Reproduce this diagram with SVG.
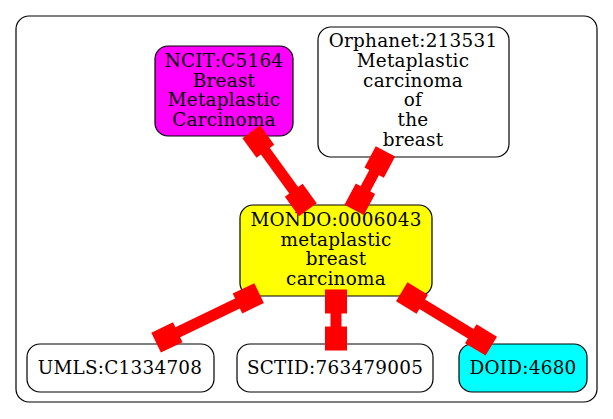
<svg xmlns="http://www.w3.org/2000/svg" width="613" height="419" viewBox="0 0 613 419">
<style>
.frame{fill:#fff;stroke:#000;stroke-width:1.2}
.node{stroke:#000;stroke-width:1.2}
text{font-family:"DejaVu Serif","Liberation Serif",serif;font-size:18.4px;letter-spacing:0.25px;text-anchor:middle;fill:#000}
.edge line{stroke:#f00;stroke-width:11}
.edge rect{fill:#f00}
</style>
<rect width="613" height="419" fill="#fff"/>
<rect class="frame" x="16" y="16" width="581" height="386" rx="13"/>
<g id="ncit">
<rect class="node" x="155" y="46" width="138" height="90" rx="13" fill="#ff00ff"/>
<text x="224" y="67">NCIT:C5164</text>
<text x="224" y="86.5">Breast</text>
<text x="224" y="106">Metaplastic</text>
<text x="224" y="125.5">Carcinoma</text>
</g>
<g id="orphanet">
<rect class="node" x="318" y="27" width="191" height="130" rx="13" fill="#fff"/>
<text x="413" y="47">Orphanet:213531</text>
<text x="413" y="66.8">Metaplastic</text>
<text x="413" y="86.6">carcinoma</text>
<text x="413" y="106.4">of</text>
<text x="413" y="126.2">the</text>
<text x="413" y="146">breast</text>
</g>
<g id="mondo">
<rect class="node" x="240" y="205" width="192" height="91" rx="13" fill="#ffff00"/>
<text x="336" y="226">MONDO:0006043</text>
<text x="336" y="245.5">metaplastic</text>
<text x="336" y="265">breast</text>
<text x="336" y="284.5">carcinoma</text>
</g>
<g id="umls">
<rect class="node" x="27" y="344" width="187" height="48" rx="13" fill="#fff"/>
<text x="120" y="373.5">UMLS:C1334708</text>
</g>
<g id="sctid">
<rect class="node" x="237" y="344" width="196" height="48" rx="13" fill="#fff"/>
<text x="335" y="373.5">SCTID:763479005</text>
</g>
<g id="doid">
<rect class="node" x="459" y="344" width="128" height="48" rx="13" fill="#00ffff"/>
<text x="523" y="373.5">DOID:4680</text>
</g>
<g id="edges">
<g class="edge" transform="translate(258.3 141.5) rotate(54)">
<line x1="0" y1="0" x2="72.3" y2="0"/>
<rect x="-12" y="-11" width="24" height="22"/>
<rect x="60.3" y="-11" width="24" height="22"/>
</g>
<g class="edge" transform="translate(379.8 162) rotate(118.2)">
<line x1="0" y1="0" x2="42.3" y2="0"/>
<rect x="-12" y="-11" width="24" height="22"/>
<rect x="30.3" y="-11" width="24" height="22"/>
</g>
<g class="edge" transform="translate(248.3 298.3) rotate(154.3)">
<line x1="0" y1="0" x2="90.3" y2="0"/>
<rect x="-12" y="-11" width="24" height="22"/>
<rect x="78.3" y="-11" width="24" height="22"/>
</g>
<g class="edge" transform="translate(336 301.5) rotate(90)">
<line x1="0" y1="0" x2="37" y2="0"/>
<rect x="-12" y="-11" width="24" height="22"/>
<rect x="25" y="-11" width="24" height="22"/>
</g>
<g class="edge" transform="translate(412 298) rotate(31.3)">
<line x1="0" y1="0" x2="80.8" y2="0"/>
<rect x="-12" y="-11" width="24" height="22"/>
<rect x="68.8" y="-11" width="24" height="22"/>
</g>
</g>
</svg>
